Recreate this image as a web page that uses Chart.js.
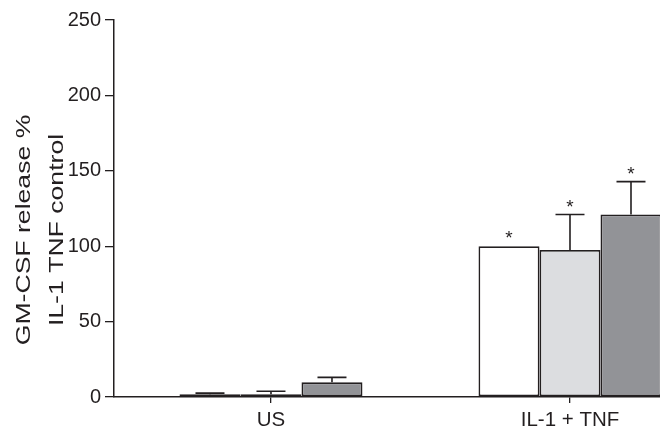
<!DOCTYPE html>
<html>
<head>
<meta charset="utf-8">
<script src="https://cdn.jsdelivr.net/npm/chart.js@4"></script>
<style>
html,body{margin:0;padding:0;background:#fff;}
#wrap{width:660px;height:427px;position:relative;}
</style>
</head>
<body>
<div id="wrap"><canvas id="c" width="660" height="427"></canvas></div>
<script>
const categories = ['US', 'IL-1 + TNF'];
const seriesA = [1.8, 100];     // white bars
const seriesB = [1.8, 97.5];    // light grey bars
const seriesC = [9.7, 121];     // dark grey bars
const errA = [0.8, 0];
const errB = [2.0, 23.5];
const errC = [3.3, 21.8];
const starA = [false, true];
const starB = [false, true];
const starC = [false, true];
const yTicks = [0, 50, 100, 150, 200, 250];
const yTitle = ['GM-CSF release %', 'IL-1 TNF control'];

const INK = '#231f20';
const FONT = "'Liberation Sans', Arial, sans-serif";

function mk(vals) { return vals.map((v, i) => ({x: i, y: v})); }

const errors = [errA, errB, errC];
const stars = [starA, starB, starC];

const errorPlugin = {
  id: 'errbars',
  afterDatasetsDraw(chart) {
    const ctx = chart.ctx;
    const ys = chart.scales.y;
    ctx.save();
    ctx.strokeStyle = INK;
    ctx.lineWidth = 1.6;
    chart.data.datasets.forEach((ds, di) => {
      const meta = chart.getDatasetMeta(di);
      meta.data.forEach((el, i) => {
        const v = ds.data[i].y;
        const e = errors[di][i];
        let topY = el.y;
        if (e > 0) {
          const yTop = ys.getPixelForValue(v + e);
          ctx.beginPath();
          ctx.moveTo(el.x, el.y);
          ctx.lineTo(el.x, yTop);
          ctx.moveTo(el.x - 14.5, yTop);
          ctx.lineTo(el.x + 14.5, yTop);
          ctx.stroke();
          topY = yTop;
        }
        if (stars[di][i]) {
          ctx.fillStyle = INK;
          ctx.font = '19px ' + FONT;
          ctx.textAlign = 'center';
          ctx.textBaseline = 'alphabetic';
          ctx.fillText('*', el.x, topY - 2);
        }
      });
    });
    ctx.restore();
  }
};

const titlePlugin = {
  id: 'ytitle',
  afterDraw(chart) {
    const ctx = chart.ctx;
    ctx.save();
    ctx.fillStyle = INK;
    ctx.font = '20px ' + FONT;
    ctx.textAlign = 'center';
    ctx.textBaseline = 'middle';
    const xs = [24, 57];
    yTitle.forEach((t, i) => {
      ctx.save();
      ctx.translate(xs[i], 230);
      ctx.rotate(-Math.PI / 2);
      ctx.scale(1.33, 1);
      ctx.fillText(t, 0, 0);
      ctx.restore();
    });
    ctx.restore();
  }
};

const common = {borderColor: INK, borderWidth: 1.8, borderSkipped: false, categoryPercentage: 0.612, barPercentage: 1};

new Chart(document.getElementById('c'), {
  type: 'bar',
  data: {
    datasets: [
      Object.assign({label: 'A', data: mk(seriesA), backgroundColor: '#ffffff'}, common),
      Object.assign({label: 'B', data: mk(seriesB), backgroundColor: '#dcdde0'}, common),
      Object.assign({label: 'C', data: mk(seriesC), backgroundColor: '#929397'}, common)
    ]
  },
  options: {
    responsive: false,
    animation: false,
    devicePixelRatio: 1,
    layout: {padding: {top: 20, right: 0, bottom: 0, left: 0}},
    plugins: {legend: {display: false}, tooltip: {enabled: false}},
    scales: {
      x: {
        type: 'linear',
        offset: false,
        bounds: 'data',
        min: -0.525,
        max: 1.301,
        afterBuildTicks(s) { s.ticks = categories.map((c, i) => ({value: i})); },
        afterFit(s) { s.height = 30; },
        ticks: {
          callback: (v) => categories[v],
          font: {size: 20.5, family: FONT},
          color: INK,
          padding: 5,
          maxRotation: 0,
          autoSkip: false
        },
        grid: {offset: false, drawOnChartArea: false, drawTicks: true, tickLength: 6, color: INK, lineWidth: 1.3},
        border: {display: true, color: INK, width: 1.5}
      },
      y: {
        min: 0,
        max: 250,
        afterBuildTicks(s) { s.ticks = yTicks.map(v => ({value: v})); },
        afterFit(s) { s.width = 114; },
        ticks: {font: {size: 20, family: FONT}, color: INK, padding: 4},
        grid: {drawOnChartArea: false, drawTicks: true, tickLength: 9, color: INK, lineWidth: 1.3},
        border: {display: true, color: INK, width: 1.5}
      }
    }
  },
  plugins: [errorPlugin, titlePlugin]
});
</script>
</body>
</html>
